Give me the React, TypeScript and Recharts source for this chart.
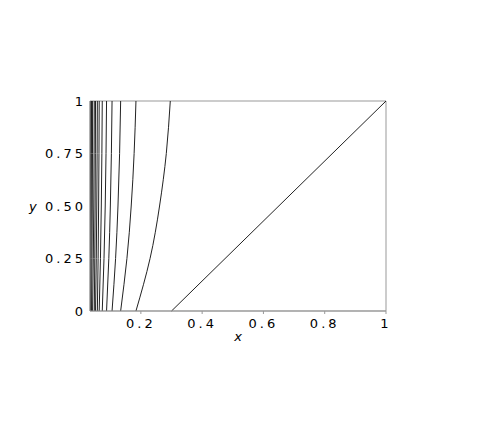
import React from 'react';
import {
  Label,
  Line,
  LineChart,
  ReferenceArea,
  XAxis,
  YAxis,
} from 'recharts';

// y levels where each contour's x position was read
const yLevels = [0, 0.25, 0.5, 0.75, 1];

// x positions of each contour at the y levels above (right to left)
const contourXs: number[][] = [
  [0.184, 0.23, 0.261, 0.283, 0.296],
  [0.134, 0.1545, 0.1685, 0.178, 0.184],
  [0.106, 0.1175, 0.1253, 0.1306, 0.134],
  [0.088, 0.0954, 0.1004, 0.1038, 0.106],
  [0.074, 0.0797, 0.0837, 0.0863, 0.088],
  [0.064, 0.0681, 0.0709, 0.0728, 0.074],
  [0.058, 0.0605, 0.0621, 0.0633, 0.064],
  [0.052, 0.0545, 0.0561, 0.0573, 0.058],
  [0.048, 0.0496, 0.0508, 0.0515, 0.052],
  [0.0425, 0.0448, 0.0463, 0.0473, 0.048],
  [0.039, 0.0404, 0.0414, 0.0421, 0.0425],
  [0.036, 0.0372, 0.0381, 0.0386, 0.039],
  [0.0345, 0.0351, 0.0355, 0.0358, 0.036],
];

// the straight contour
const diagonalX = [0.3, 1];
const diagonalY = [0, 1];

const xTicks = [0.2, 0.4, 0.6, 0.8, 1];
const yTicks = [0, 0.25, 0.5, 0.75, 1];
const yTickLabels = ['0', '0.25', '0.50', '0.75', '1'];

const X_MIN = 0.034;

const tickStyle = {
  fontFamily: 'DejaVu Sans',
  fontSize: 13,
  fill: '#000',
  letterSpacing: 3,
};

const axisLabelStyle = {
  fontFamily: 'DejaVu Sans',
  fontSize: 13,
  fontStyle: 'italic',
  fill: '#000',
};

export default function App() {
  const curves = contourXs.map((xs) =>
    xs.map((x, i) => ({ x, y: yLevels[i] }))
  );
  const diagonal = diagonalX.map((x, i) => ({ x, y: diagonalY[i] }));

  return (
    <LineChart
      width={491}
      height={436}
      margin={{ top: 93, right: 113, bottom: 101, left: 20 }}
    >
      <XAxis
        type='number'
        dataKey='x'
        domain={[X_MIN, 1]}
        allowDataOverflow
        ticks={xTicks}
        tickFormatter={(v) => `${v}`}
        tick={tickStyle}
        tickSize={3}
        tickMargin={5}
        stroke='#999'
        height={32}
      >
        <Label
          value='x'
          position='insideBottom'
          offset={2}
          style={axisLabelStyle}
        />
      </XAxis>
      <YAxis
        type='number'
        dataKey='y'
        domain={[0, 1]}
        ticks={yTicks}
        tickFormatter={(v) => yTickLabels[yTicks.indexOf(v)]}
        tick={tickStyle}
        tickLine={false}
        tickSize={0}
        tickMargin={4}
        stroke='#999'
        width={62}
      >
        <Label
          value='y'
          position='insideLeft'
          offset={1}
          style={axisLabelStyle}
        />
      </YAxis>
      <ReferenceArea
        x1={X_MIN}
        x2={1}
        y1={0}
        y2={1}
        fill='none'
        stroke='#999'
        strokeWidth={1}
      />
      <Line
        data={diagonal}
        dataKey='y'
        type='linear'
        stroke='#222'
        strokeWidth={1}
        dot={false}
        isAnimationActive={false}
      />
      {curves.map((c, i) => (
        <Line
          key={i}
          data={c}
          dataKey='y'
          type='natural'
          stroke='#222'
          strokeWidth={1}
          dot={false}
          isAnimationActive={false}
        />
      ))}
    </LineChart>
  );
}
